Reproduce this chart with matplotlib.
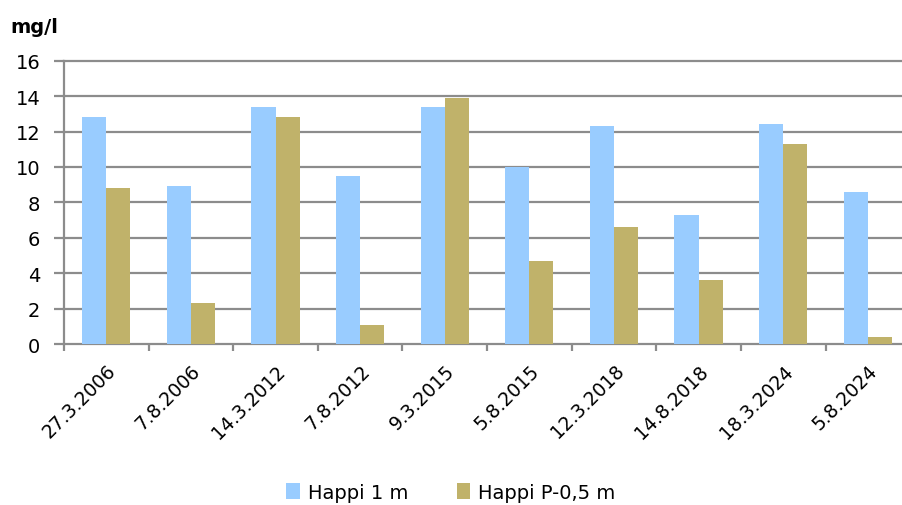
import numpy as np
import matplotlib.pyplot as plt
from matplotlib.ticker import FixedLocator

dates = ["27.3.2006", "7.8.2006", "14.3.2012", "7.8.2012", "9.3.2015",
         "5.8.2015", "12.3.2018", "14.8.2018", "18.3.2024", "5.8.2024"]
happi_1m = [12.8, 8.9, 13.4, 9.5, 13.4, 10.0, 12.3, 7.3, 12.4, 8.6]
happi_p05 = [8.8, 2.3, 12.8, 1.1, 13.9, 4.7, 6.6, 3.6, 11.3, 0.4]

blue = "#99CCFF"
gold = "#C0B26A"
grid_col = "#8C8C8C"

plt.rcParams['font.family'] = ['DejaVu Sans']

fig = plt.figure(figsize=(9.02, 5.06), dpi=100)
ax = fig.add_axes([0.071, 0.318, 0.938, 0.560])

x = np.arange(len(dates))
w = 0.285
ax.bar(x - w / 2, happi_1m, w, color=blue, label="Happi 1 m", zorder=3)
ax.bar(x + w / 2, happi_p05, w, color=gold, label="Happi P-0,5 m", zorder=3)

ax.set_xlim(-0.5, len(dates) - 0.5)
ax.set_ylim(0, 16)
ax.set_yticks(range(0, 17, 2))
ax.yaxis.grid(True, color=grid_col, linewidth=1.6, zorder=0)
ax.set_axisbelow(True)
# keep the 0 and 16 gridlines at full width
for gl in ax.get_ygridlines():
    gl.set_clip_on(False)

for s in ["top", "right", "bottom"]:
    ax.spines[s].set_visible(False)
ax.spines["left"].set_color(grid_col)
ax.spines["left"].set_linewidth(1.6)

# category labels at centres, tick marks on the boundaries
ax.set_xticks(x)
ax.set_xticklabels(dates, rotation=45, ha="right", rotation_mode="anchor", fontsize=13.5)
ax.tick_params(axis="x", which="major", length=0, pad=12)
ax.xaxis.set_minor_locator(FixedLocator(np.arange(-0.5, len(dates), 1.0)))
ax.tick_params(axis="x", which="minor", length=5, width=1.6, color=grid_col)
ax.tick_params(axis="y", length=7, width=1.6, color=grid_col, labelsize=14, pad=10)

fig.text(0.011, 0.945, "mg/l", fontsize=14, fontweight="bold", ha="left", va="center")

fig.legend(loc="center", bbox_to_anchor=(0.5, 0.025), ncol=2, frameon=False,
           fontsize=14, handlelength=0.7, handleheight=0.9, handletextpad=0.4,
           columnspacing=2.5)

fig.savefig("out.png", dpi=100)
